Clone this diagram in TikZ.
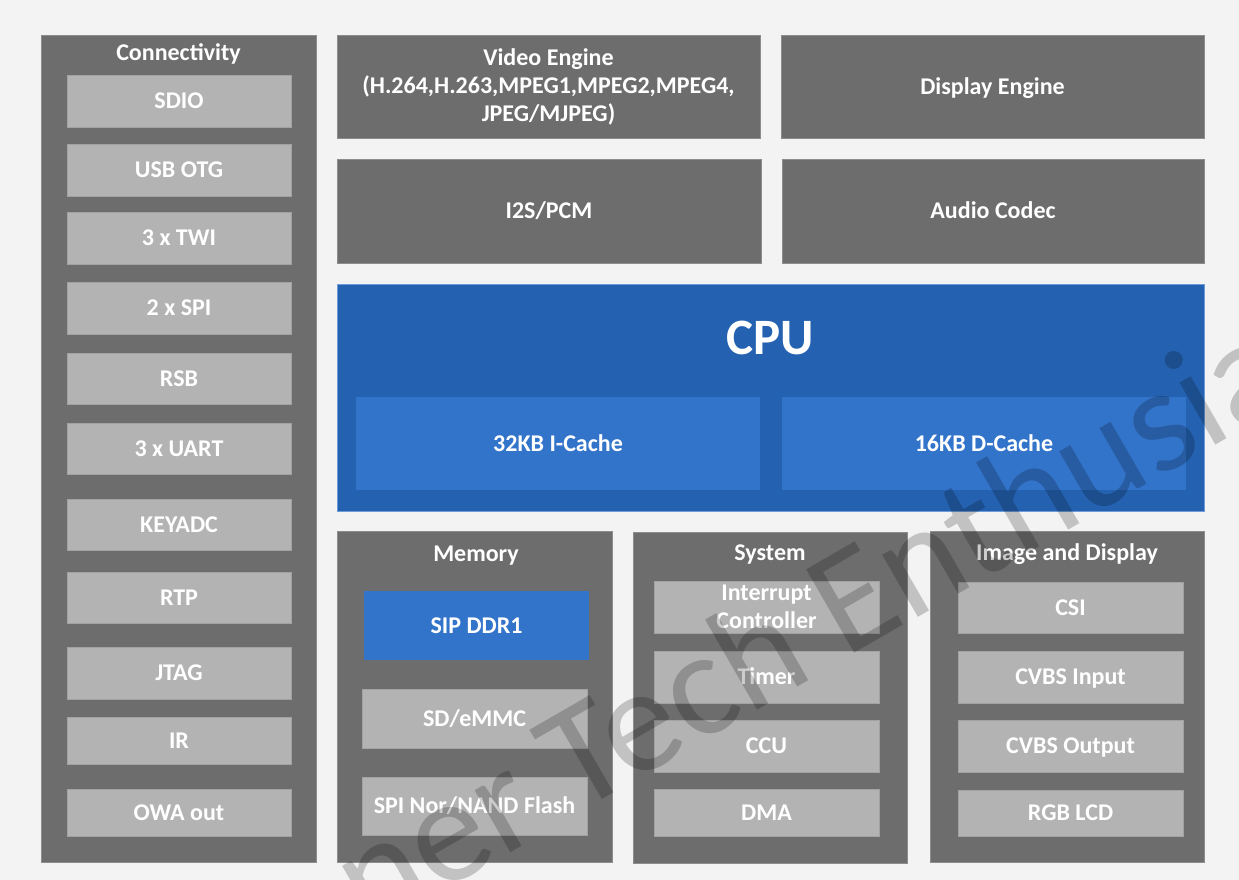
\documentclass[tikz,border=0pt]{standalone}
\usepackage{fontspec}
\setmainfont{Carlito}

\definecolor{bggray}{HTML}{F3F3F3}
\definecolor{panelgray}{HTML}{6D6D6D}
\definecolor{paneledge}{HTML}{8C8C8C}
\definecolor{cellgray}{HTML}{B3B3B3}
\definecolor{celledge}{HTML}{A2A2A2}
\definecolor{cpublue}{HTML}{2462B1}
\definecolor{cpuedge}{HTML}{6E9BD8}
\definecolor{cacheblue}{HTML}{3374CB}

\begin{document}
\begin{tikzpicture}[x=1pt, y=-1pt]
  % Hintergrund.
  \useasboundingbox (0, 0) rectangle (1239, 880);
  \fill[bggray] (0, 0) rectangle (1239, 880);
  \clip (0, 0) rectangle (1239, 880);

  % Stile.
  \tikzstyle{block}=[rectangle, inner sep=0pt, text=white, font=\bfseries\fontsize{24}{28}\selectfont, text height=15.5pt, text depth=0pt]
  \tikzstyle{panelbox}=[block, fill=panelgray, draw=paneledge, line width=0.8pt]
  \tikzstyle{cellbox}=[block, fill=cellgray, draw=celledge, line width=0.8pt, minimum width=225pt, minimum height=52pt]
  \tikzstyle{headtext}=[block]
  \tikzstyle{multi}=[rectangle, inner sep=0pt, text=white, align=center, font=\bfseries\fontsize{24}{28}\selectfont]

  % Connectivity.
  \node[panelbox, minimum width=275pt, minimum height=827pt] (conn) at (178.5, 448.5) {};
  \node[headtext] (connhead) at (178.5, 53) {Connectivity};
  \node[cellbox, minimum width=224pt] (sdio) at (179, 101) {SDIO};
  \node[cellbox, minimum width=224pt] (usb) at (179, 170) {USB OTG};
  \node[cellbox, minimum width=224pt] (twi) at (179, 238) {3 x TWI};
  \node[cellbox, minimum width=224pt] (spi) at (179, 308) {2 x SPI};
  \node[cellbox, minimum width=224pt, minimum height=51pt] (rsb) at (179, 378.5) {RSB};
  \node[cellbox, minimum width=224pt, minimum height=51pt] (uart) at (179, 448.5) {3 x UART};
  \node[cellbox, minimum width=224pt, minimum height=51pt] (keyadc) at (179, 524.5) {KEYADC};
  \node[cellbox, minimum width=224pt, minimum height=51pt] (rtp) at (179, 597.5) {RTP};
  \node[cellbox, minimum width=224pt] (jtag) at (179, 673) {JTAG};
  \node[cellbox, minimum width=224pt, minimum height=47pt] (ir) at (179, 740.5) {IR};
  \node[cellbox, minimum width=224pt, minimum height=47pt] (owa) at (179, 812.5) {OWA out};

  % Engines und Audio.
  \node[panelbox, minimum width=423pt, minimum height=103pt] (video) at (548.5, 86.5) {};
  \node[multi] (videotext) at (548.5, 86.5) {Video Engine\\(H.264,H.263,MPEG1,MPEG2,MPEG4,\\JPEG/MJPEG)};
  \node[panelbox, minimum width=423pt, minimum height=103pt] (display) at (992.5, 86.5) {Display Engine};
  \node[panelbox, minimum width=424pt, minimum height=104pt] (i2s) at (549, 211) {I2S/PCM};
  \node[panelbox, minimum width=422pt, minimum height=104pt] (audio) at (993, 211) {Audio Codec};

  % CPU.
  \node[block, fill=cpublue, draw=cpuedge, line width=0.8pt, minimum width=867pt, minimum height=227pt] (cpu) at (770.5, 397.5) {};
  \node[headtext, font=\bfseries\fontsize{51}{60}\selectfont, text height=32.8pt] (cputext) at (770.5, 338) {CPU};
  \node[block, fill=cacheblue, minimum width=404pt, minimum height=93pt] (icache) at (558, 443.5) {32KB I-Cache};
  \node[block, fill=cacheblue, minimum width=404pt, minimum height=93pt] (dcache) at (984, 443.5) {16KB D-Cache};

  % Memory.
  \node[panelbox, minimum width=275pt, minimum height=331pt] (mem) at (474.5, 696.5) {};
  \node[headtext] (memhead) at (476, 554) {Memory};
  \node[block, fill=cacheblue, minimum width=225pt, minimum height=69pt] (ddr) at (476.5, 625.5) {SIP DDR1};
  \node[cellbox, minimum height=59pt] (sd) at (474.5, 718.5) {SD/eMMC};
  \node[cellbox, minimum height=58pt] (flash) at (474.5, 806) {SPI Nor/NAND Flash};

  % System.
  \node[panelbox, minimum width=274pt, minimum height=331pt] (sys) at (770, 697.5) {};
  \node[headtext] (syshead) at (770, 553) {System};
  \node[cellbox] (intc) at (766.5, 607) {};
  \node[multi] (intctext) at (766.5, 607) {Interrupt\\Controller};
  \node[cellbox] (timer) at (766.5, 677) {Timer};
  \node[cellbox] (ccu) at (766.5, 746) {CCU};
  \node[cellbox, minimum height=47pt] (dma) at (766.5, 812.5) {DMA};

  % Image and Display.
  \node[panelbox, minimum width=274pt, minimum height=331pt] (img) at (1067, 696.5) {};
  \node[headtext] (imghead) at (1067, 553) {Image and Display};
  \node[cellbox, minimum height=51pt] (csi) at (1070.5, 607.5) {CSI};
  \node[cellbox] (cvbsin) at (1070.5, 677) {CVBS Input};
  \node[cellbox] (cvbsout) at (1070.5, 746) {CVBS Output};
  \node[cellbox, minimum height=46pt] (rgb) at (1070.5, 813) {RGB LCD};

  % Wasserzeichen.
  \node[anchor=base west, rotate=30, inner sep=0pt, text=black, text opacity=0.2, font=\fontsize{150}{150}\selectfont] (wm) at (369, 934) {ner Tech Enthusiast};
\end{tikzpicture}
\end{document}
